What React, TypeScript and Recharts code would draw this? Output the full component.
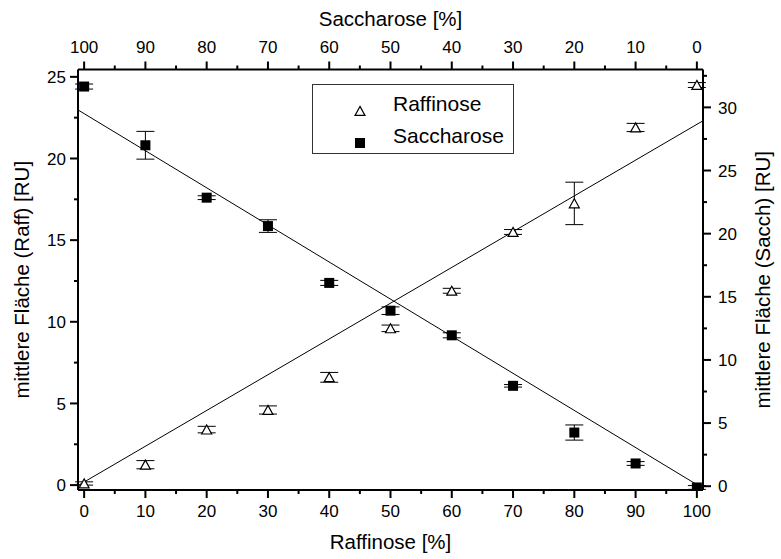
import React from 'react';
import { ScatterChart, Scatter, XAxis, YAxis, ErrorBar, Legend, Label } from 'recharts';

const FONT = '"Liberation Sans", Arial, Helvetica, sans-serif';

// Raffinose (triangles, left axis) vs. Raffinose share
const raffinosePct = [0, 10, 20, 30, 40, 50, 60, 70, 80, 90, 100];
const raffinoseArea = [0.1, 1.25, 3.4, 4.6, 6.6, 9.6, 11.9, 15.5, 17.25, 21.9, 24.5];
const raffinoseErr = [0.1, 0.25, 0.2, 0.25, 0.3, 0.2, 0.15, 0.15, 1.3, 0.25, 0.15];

// Saccharose (squares, right axis) vs. Saccharose share (top axis)
const saccharosePct = [100, 90, 80, 70, 60, 50, 40, 30, 20, 10, 0];
const saccharoseArea = [31.65, 27.0, 22.85, 20.6, 16.1, 13.9, 11.95, 7.95, 4.25, 1.8, -0.1];
const saccharoseErr = [0.2, 1.1, 0.15, 0.5, 0.2, 0.3, 0.2, 0.1, 0.6, 0.15, 0.15];

// linear fits, end points at the frame edges
const raffinoseFitPct = [-1, 101];
const raffinoseFitArea = [-0.03, 22.31];
const saccharoseFitPct = [101, -1];
const saccharoseFitArea = [29.8, -0.17];

const xTicks = [0, 5, 10, 15, 20, 25, 30, 35, 40, 45, 50, 55, 60, 65, 70, 75, 80, 85, 90, 95, 100];
const leftTicks = [0, 2.5, 5, 7.5, 10, 12.5, 15, 17.5, 20, 22.5, 25];
const rightTicks = [0, 2.5, 5, 7.5, 10, 12.5, 15, 17.5, 20, 22.5, 25, 27.5, 30, 32.5];

const legendNames = ['Raffinose', 'Saccharose'];

const raffinoseData = raffinosePct.map((x, i) => ({ x, y: raffinoseArea[i], err: raffinoseErr[i] }));
const saccharoseData = saccharosePct.map((x, i) => ({ x, y: saccharoseArea[i], err: saccharoseErr[i] }));
const raffinoseFit = raffinoseFitPct.map((x, i) => ({ x, y: raffinoseFitArea[i] }));
const saccharoseFit = saccharoseFitPct.map((x, i) => ({ x, y: saccharoseFitArea[i] }));

const TICK_FONT = 17;

type Side = 'bottom' | 'top' | 'left' | 'right';

// ticks with outward marks; minor ticks are shorter and unlabeled
const makeTick = (side: Side, step: number) => (props: any) => {
  const { x, y, payload } = props;
  const v = payload.value;
  const major = Math.abs(v / step - Math.round(v / step)) < 1e-6;
  const len = major ? 8 : 4;
  const common = { fontFamily: FONT, fontSize: TICK_FONT, fill: '#000' };
  let line;
  let text = null;
  if (side === 'bottom') {
    line = <line x1={x} y1={y} x2={x} y2={y + len} stroke="#000" strokeWidth={2} />;
    text = <text x={x} y={y + 27} textAnchor="middle" {...common}>{v}</text>;
  } else if (side === 'top') {
    line = <line x1={x} y1={y} x2={x} y2={y - len} stroke="#000" strokeWidth={2} />;
    text = <text x={x} y={y - 17} textAnchor="middle" {...common}>{v}</text>;
  } else if (side === 'left') {
    line = <line x1={x} y1={y} x2={x - len} y2={y} stroke="#000" strokeWidth={2} />;
    text = <text x={x - 12} y={y} dy="0.36em" textAnchor="end" {...common}>{v}</text>;
  } else {
    line = <line x1={x} y1={y} x2={x + len} y2={y} stroke="#000" strokeWidth={2} />;
    text = <text x={x + 15} y={y} dy="0.36em" textAnchor="start" {...common}>{v}</text>;
  }
  return (
    <g>
      {line}
      {major && text}
    </g>
  );
};

const TITLE_FONT = 20.5;

const xTitle = (value: string, baseline: (vb: any) => number) => (props: any) => {
  const vb = props.viewBox;
  return (
    <text x={vb.x + vb.width / 2} y={baseline(vb)} textAnchor="middle" fontFamily={FONT} fontSize={TITLE_FONT} fill="#000">
      {value}
    </text>
  );
};

const yTitle = (value: string, cx: number) => (props: any) => {
  const vb = props.viewBox;
  const cy = vb.y + vb.height / 2;
  return (
    <text
      x={cx}
      y={cy}
      dy="0.36em"
      transform={`rotate(-90 ${cx} ${cy})`}
      textAnchor="middle"
      fontFamily={FONT}
      fontSize={TITLE_FONT}
      fill="#000"
    >
      {value}
    </text>
  );
};

const TriangleMark = (props: any) => {
  const { cx, cy } = props;
  return (
    <path
      d={`M${cx},${cy - 4.6}L${cx + 5},${cy + 4.4}L${cx - 5},${cy + 4.4}Z`}
      fill="#fff"
      stroke="#000"
      strokeWidth={1.2}
    />
  );
};

const SquareMark = (props: any) => {
  const { cx, cy } = props;
  return <rect x={cx - 5} y={cy - 5} width={10} height={10} fill="#000" />;
};

const NoMark = () => <g />;

const legendIcons = [
  <svg width={12} height={12} key="t">
    <path d="M6,1.4L11,10.4L1,10.4Z" fill="#fff" stroke="#000" strokeWidth={1.2} />
  </svg>,
  <svg width={12} height={12} key="s">
    <rect x={1} y={1} width={10} height={10} fill="#000" />
  </svg>,
];

const renderLegend = () => (
  <div
    style={{
      position: 'relative',
      width: 202,
      height: 70,
      boxSizing: 'border-box',
      border: '1.4px solid #333',
      background: '#fff',
      fontFamily: FONT,
      fontSize: 21,
      color: '#000',
    }}
  >
    {legendNames.map((name, i) => (
      <div key={name} style={{ position: 'absolute', left: 0, top: 3 + i * 32, height: 32, width: '100%' }}>
        <div style={{ position: 'absolute', left: 41, top: 10 }}>{legendIcons[i]}</div>
        <div style={{ position: 'absolute', left: 80, top: 0, lineHeight: '32px' }}>{name}</div>
      </div>
    ))}
  </div>
);

const axisLine = { stroke: '#000', strokeWidth: 2 };

export default function App() {
  return (
    <div style={{ position: 'absolute', left: 0, top: 0, width: 781, height: 559, background: '#fff' }}>
      <ScatterChart width={781} height={559} margin={{ top: 0, right: 0, bottom: 0, left: 0 }}>
        <XAxis
          xAxisId="raff"
          type="number"
          dataKey="x"
          orientation="bottom"
          domain={[-1, 101]}
          allowDataOverflow
          ticks={xTicks}
          interval={0}
          height={69}
          tickSize={0}
          tickMargin={0}
          tickLine={false}
          axisLine={axisLine}
          tick={makeTick('bottom', 10)}
        >
          <Label content={xTitle('Raffinose [%]', (vb) => vb.y + 58.5)} />
        </XAxis>
        <XAxis
          xAxisId="sacch"
          type="number"
          dataKey="x"
          orientation="top"
          reversed
          domain={[-1, 101]}
          allowDataOverflow
          ticks={xTicks}
          interval={0}
          height={69.5}
          tickSize={0}
          tickMargin={0}
          tickLine={false}
          axisLine={axisLine}
          tick={makeTick('top', 10)}
        >
          <Label content={xTitle('Saccharose [%]', (vb) => vb.y + vb.height - 44)} />
        </XAxis>
        <YAxis
          yAxisId="raff"
          type="number"
          dataKey="y"
          orientation="left"
          domain={[-0.3, 25.45]}
          allowDataOverflow
          ticks={leftTicks}
          interval={0}
          width={78}
          tickSize={0}
          tickMargin={0}
          tickLine={false}
          axisLine={axisLine}
          tick={makeTick('left', 5)}
        >
          <Label content={yTitle('mittlere Fläche (Raff) [RU]', 22)} />
        </YAxis>
        <YAxis
          yAxisId="sacch"
          type="number"
          dataKey="y"
          orientation="right"
          domain={[-0.3, 33]}
          allowDataOverflow
          ticks={rightTicks}
          interval={0}
          width={78}
          tickSize={0}
          tickMargin={0}
          tickLine={false}
          axisLine={axisLine}
          tick={makeTick('right', 5)}
        >
          <Label content={yTitle('mittlere Fläche (Sacch) [RU]', 763)} />
        </YAxis>

        <Scatter
          name="Raffinose fit"
          data={raffinoseFit}
          xAxisId="raff"
          yAxisId="raff"
          line={{ stroke: '#000', strokeWidth: 1 }}
          shape={NoMark}
          isAnimationActive={false}
        />
        <Scatter
          name="Saccharose fit"
          data={saccharoseFit}
          xAxisId="sacch"
          yAxisId="sacch"
          line={{ stroke: '#000', strokeWidth: 1 }}
          shape={NoMark}
          isAnimationActive={false}
        />
        <Scatter
          name="Raffinose"
          data={raffinoseData}
          xAxisId="raff"
          yAxisId="raff"
          shape={TriangleMark}
          isAnimationActive={false}
        >
          <ErrorBar dataKey="err" direction="y" width={9} stroke="#000" strokeWidth={1} isAnimationActive={false} />
        </Scatter>
        <Scatter
          name="Saccharose"
          data={saccharoseData}
          xAxisId="sacch"
          yAxisId="sacch"
          shape={SquareMark}
          isAnimationActive={false}
        >
          <ErrorBar dataKey="err" direction="y" width={9} stroke="#000" strokeWidth={1} isAnimationActive={false} />
        </Scatter>

        <Legend
          layout="vertical"
          align="center"
          verticalAlign="middle"
          wrapperStyle={{ left: 312, top: 84, width: 202, height: 70 }}
          content={renderLegend}
        />
      </ScatterChart>
    </div>
  );
}
